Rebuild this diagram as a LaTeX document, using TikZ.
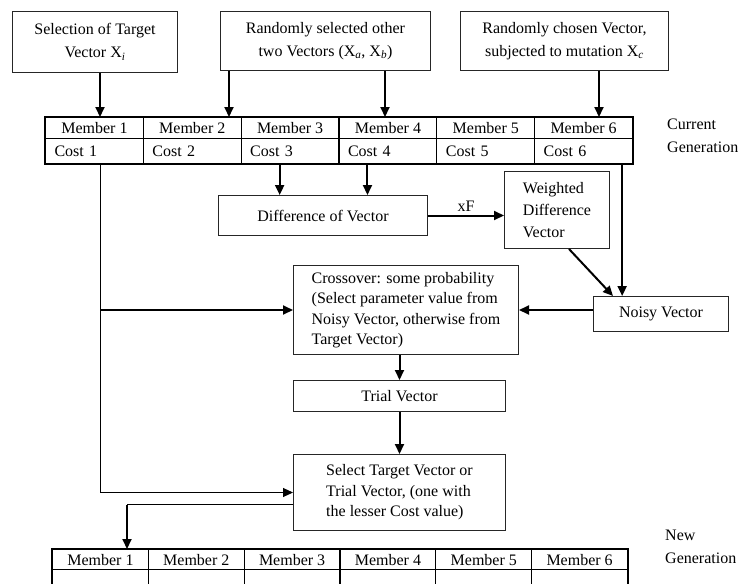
\documentclass[tikz,border=0pt]{standalone}
\usepackage{fontspec}
\setmainfont{Liberation Serif}
\usetikzlibrary{arrows.meta,calc}
\begin{document}
\begin{tikzpicture}[x=1pt,y=-1pt,
  every node/.style={font=\fontsize{16}{20.5}\selectfont},
  box/.style={draw=black!85, line width=1pt, inner sep=0pt, anchor=north west, align=left},
  topbox/.style={box, align=center, font=\fontsize{16}{23}\selectfont},
  cellc/.style={draw, line width=1.1pt, inner sep=0pt, anchor=north west, minimum width=97.83pt, minimum height=21pt},
  celll/.style={draw, line width=1.1pt, inner xsep=9pt, inner ysep=0pt, anchor=north west, text width=79.83pt, align=left, minimum height=25pt},
  tip/.tip={Triangle[length=10pt,width=9pt]},
  arr/.style={line width=2pt, -tip},
  wire/.style={line width=1pt},
  lbl/.style={anchor=north west, inner sep=0pt, align=left, font=\fontsize{16}{23}\selectfont},
]
\useasboundingbox (0,0) rectangle (740,584);
\clip (0,0) rectangle (740,584);

% top boxes
\node[topbox, minimum width=165pt, minimum height=61pt] (A) at (12,11) {Selection of Target\\Vector X\textsubscript{\itshape i}};
\node[topbox, minimum width=210pt, minimum height=59pt] (B) at (220,11) {Randomly selected other\\two Vectors (X\textsubscript{\itshape a}, X\textsubscript{\itshape b})};
\node[topbox, minimum width=208pt, minimum height=59pt] (C) at (460,11) {Randomly chosen Vector,\\subjected to mutation X\textsubscript{\itshape c}};

% tables
\foreach \i in {1,...,6} {
  \node[cellc] (m\i) at ({45+97.83*(\i-1)},117) {Member \i};
  \node[celll] (c\i) at ({45+97.83*(\i-1)},138) {Cost \i};
  \node[cellc, minimum width=95.83pt, minimum height=20pt] (n\i) at ({52+95.83*(\i-1)},549) {Member \i};
  \node[cellc, minimum width=95.83pt, minimum height=30pt] (e\i) at ({52+95.83*(\i-1)},569) {};
}
\draw[line width=2pt] (m1.north west) rectangle (c6.south east);
\draw[line width=2pt] (n1.north west) rectangle (e6.south east);

\node[lbl] (cur) at (667,119) {Current\\Generation};
\node[lbl] (new) at (665,530) {New\\Generation};

% process boxes
\node[box, align=center, minimum width=209pt, minimum height=40pt] (D) at (218,195) {Difference of Vector};
\node[box, minimum width=105pt, minimum height=77pt, font=\fontsize{16}{22}\selectfont] (W) at (504,171) {Weighted\\Difference\\Vector};
\node[box, align=center, minimum width=135pt, minimum height=35pt] (N) at (593,296) {Noisy Vector};
\node[box, minimum width=225pt, minimum height=89pt] (X) at (293,265) {Crossover: some probability\\(Select parameter value from\\Noisy Vector, otherwise from\\Target Vector)};
\node[box, align=center, minimum width=212pt, minimum height=31pt] (T) at (293,380) {Trial Vector};
\node[box, minimum width=212pt, minimum height=76pt] (S) at (293,454) {Select Target Vector or\\Trial Vector, (one with\\the lesser Cost value)};

% helper coordinates
\coordinate (a1) at ($(A.south west)+(88,0)$);
\coordinate (b1) at ($(B.south west)+(9,0)$);
\coordinate (b2) at ($(B.south west)+(165,0)$);
\coordinate (cc) at ($(C.south west)+(139,0)$);
\coordinate (k1) at ($(c1.south west)+(55,0)$);
\coordinate (k3) at ($(c3.south west)+(39,0)$);
\coordinate (k4) at ($(c4.south west)+(29,0)$);
\coordinate (k6) at ($(c6.south west)+(88,0)$);
\coordinate (w1) at ($(W.south west)+(65,0)$);
\coordinate (n0) at ($(N.north west)+(20,0)$);
\coordinate (s1) at ($(S.west)+(0,12)$);
\coordinate (q) at ($(n1.north west)+(75,0)$);

% connectors
\draw[arr] (a1) -- (a1 |- m1.north);
\draw[arr] (b1) -- (b1 |- m2.north);
\draw[arr] (b2) -- (b2 |- m4.north);
\draw[arr] (cc) -- (cc |- m6.north);
\draw[wire, -tip] (k1) |- (S.west);
\draw[arr] (k1 |- X.west) -- (X.west);
\draw[arr] (k3) -- (k3 |- D.north);
\draw[arr] (k4) -- (k4 |- D.north);
\draw[arr] (k6) -- (k6 |- N.north);
\draw[arr] (D.east) -- (D.east -| W.west) node[midway, above, inner sep=3pt] {xF};
\draw[arr] (w1) -- (n0);
\draw[arr] (N.west |- X.east) -- (X.east);
\draw[arr] (T.north |- X.south) -- (T.north);
\draw[arr] (T.south) -- (S.north);
\draw[wire] (s1) -- (s1 -| q);
\draw[arr] (s1 -| q) -- (q);
\end{tikzpicture}
\end{document}
